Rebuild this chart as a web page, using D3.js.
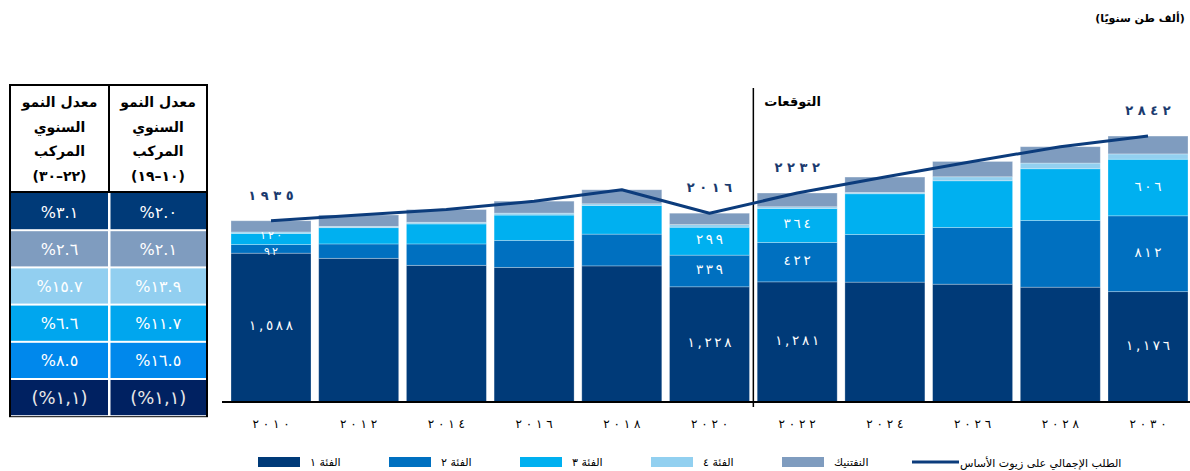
<!DOCTYPE html>
<html><head><meta charset="utf-8">
<script src="https://cdn.jsdelivr.net/npm/d3@7"></script>
<style>body{margin:0;background:#fff}svg{display:block;font-family:"DejaVu Sans",sans-serif}
.ltr{direction:ltr;unicode-bidi:bidi-override}</style>
</head><body><svg id="c" width="1190" height="471"></svg>
<script>
// ---------- data ----------
const years = ["2010","2012","2014","2016","2018","2020","2022","2024","2026","2028","2030"];
const group1 = [1588,1533,1458,1436,1452,1228,1281,1278,1256,1224,1176];
const group2 = [92,154,229,289,340,339,422,510,607,714,812];
const group3 = [120,174,214,271,307,299,364,436,500,554,606];
const group4 = [15,14,18,21,18,28,18,14,43,61,57];
const naphthenic = [120,122,136,128,150,122,147,165,164,175,191];
const totalDemand = [1935,1997,2055,2145,2267,2016,2232,2403,2570,2728,2842];
const labeledYears = ["2010","2020","2022","2030"];
const seriesNames = ["الفئة ١","الفئة ٢","الفئة ٣","الفئة ٤","النفتنيك"];
const lineName = "الطلب الإجمالي على زيوت الأساس";
const forecastLabel = "التوقعات";
const unitLabel = "(ألف طن سنويًا)";
const tableHeaderLines = ["معدل النمو","السنوي","المركب"];
const periodRight = "(١٠–١٩)";
const periodLeft = "(٢٢–٣٠)";
const cagr2010_19 = ["%٢.٠","%٢.١","%١٣.٩","%١١.٧","%١٦.٥","(%١,١)"];
const cagr2022_30 = ["%٣.١","%٢.٦","%١٥.٧","%٦.٦","%٨.٥","(%١,١)"];

const colors = ["#003a78","#0070c0","#00b0f0","#92d0f0","#7f9cbf"];
const rowColors = ["#003a78","#7f9cbf","#92cff0","#00a6ee","#0088ec","#002161"];
const lineColor = "#0c3c7c";

const toAr = s => String(s).replace(/[0-9]/g, d => "٠١٢٣٤٥٦٧٨٩"[+d]);
const spaced = (s, sep) => toAr(s).split("").join(sep);

const svg = d3.select("#c");

// ---------- scales ----------
const x = d3.scaleBand().domain(years).range([227.15, 1191.85]).paddingInner(0.0878).paddingOuter(0.0439);
const y = d3.scaleLinear().domain([0, 3000]).range([401.5, 121.3]);

const rows = years.map((yr, i) => ({year: yr, s0: group1[i], s1: group2[i], s2: group3[i], s3: group4[i], s4: naphthenic[i]}));
const stack = d3.stack().keys(["s0","s1","s2","s3","s4"])(rows);

// ---------- bars ----------
const gBars = svg.append("g");
stack.forEach((layer, li) => {
  gBars.selectAll(null).data(layer).enter().append("rect")
    .attr("x", d => x(d.data.year))
    .attr("width", x.bandwidth())
    .attr("y", d => y(d[1]))
    .attr("height", d => y(d[0]) - y(d[1]))
    .attr("fill", colors[li])
    .attr("stroke", "#ffffff").attr("stroke-opacity", 0.35).attr("stroke-width", 0.8);
});

// segment labels (small segments get nudged apart so they stay legible)
[0,1,2].forEach(li => {
  gBars.selectAll(null).data(stack[li].filter(d => labeledYears.includes(d.data.year))).enter().append("text")
    .attr("class", "ltr")
    .attr("x", d => x(d.data.year) + x.bandwidth()/2)
    .attr("y", d => {
      const mid = (y(d[0]) + y(d[1]))/2 + 3;
      const small = (y(d[0]) - y(d[1])) < 16;
      return small ? mid + (li === 1 ? 3 : -3) : mid;
    })
    .attr("text-anchor", "middle")
    .attr("fill", "#fff")
    .attr("font-size", d => (y(d[0]) - y(d[1])) < 16 ? 11 : 13.5)
    .text(d => spaced(d3.format(",")(d[1]-d[0]), "\u2009"));
});

// ---------- axis ----------
const ax = svg.append("g").attr("transform", "translate(0,402)")
  .call(d3.axisBottom(x).tickSize(0).tickPadding(0).tickFormat(d => spaced(d, " ")));
ax.select(".domain").attr("stroke", "#000").attr("stroke-width", 1.8).attr("d", "M222,0H1190");
ax.selectAll(".tick text").attr("class", "ltr").attr("dy", 0).attr("y", 26).attr("font-size", 12)
  .attr("fill", "#000").attr("font-family", "DejaVu Sans");

// forecast separator
const sepX = (x("2020") + x.bandwidth() + x("2022")) / 2;
svg.append("line").attr("x1", sepX).attr("x2", sepX).attr("y1", 88).attr("y2", 407)
  .attr("stroke", "#000").attr("stroke-width", 1.5);
svg.append("text").attr("x", sepX + 11).attr("y", 106).attr("font-size", 13).attr("font-weight", "bold")
  .attr("fill", "#000").text(forecastLabel);

// ---------- total line ----------
const line = d3.line().x((d, i) => x(years[i]) + x.bandwidth()/2).y(d => y(d));
svg.append("path").datum(totalDemand).attr("d", line).attr("fill", "none")
  .attr("stroke", lineColor).attr("stroke-width", 3).attr("stroke-linejoin", "round");

svg.selectAll(null).data(years.map((yr, i) => ({yr, v: totalDemand[i]})).filter(d => labeledYears.includes(d.yr)))
  .enter().append("text")
  .attr("class", "ltr")
  .attr("x", d => x(d.yr) + x.bandwidth()/2)
  .attr("y", d => y(d.v) - 21)
  .attr("text-anchor", "middle").attr("font-size", 13).attr("font-weight", "bold")
  .attr("fill", "#1a3a6e")
  .text(d => spaced(d.v, " "));

// unit label
svg.append("text").attr("x", 1140).attr("y", 22).attr("text-anchor", "middle").attr("direction", "rtl")
  .attr("font-size", 11).attr("font-weight", "bold").attr("fill", "#000").text(unitLabel);

// ---------- legend ----------
const lg = svg.append("g");
seriesNames.forEach((n, i) => {
  const lx = 258 + i * 131;
  lg.append("rect").attr("x", lx).attr("y", 457).attr("width", 42).attr("height", 10).attr("fill", colors[i]);
  lg.append("text").attr("x", lx + 52).attr("y", 466).attr("font-size", 11).attr("fill", "#000").text(n);
});
lg.append("line").attr("x1", 912).attr("x2", 959).attr("y1", 462).attr("y2", 462)
  .attr("stroke", lineColor).attr("stroke-width", 3);
lg.append("text").attr("x", 960).attr("y", 467).attr("font-size", 11).attr("fill", "#000").text(lineName);

// ---------- CAGR table ----------
const tb = svg.append("g");
const tL = 10, tR = 207, tMid = 109, tTop = 85, hBot = 192, rowH = 37.2;
// header
tb.append("rect").attr("x", tL).attr("y", tTop).attr("width", tR - tL).attr("height", hBot - tTop)
  .attr("fill", "#fff").attr("stroke", "#000").attr("stroke-width", 2);
tb.append("line").attr("x1", tMid).attr("x2", tMid).attr("y1", tTop).attr("y2", hBot).attr("stroke", "#000").attr("stroke-width", 2);
[[ (tL+tMid)/2, periodLeft ], [ (tMid+tR)/2, periodRight ]].forEach(([cx, per]) => {
  tableHeaderLines.concat([per]).forEach((t, k) => {
    tb.append("text").attr("x", cx).attr("y", 107 + k * 24.5).attr("text-anchor", "middle")
      .attr("direction", "rtl").attr("font-size", 14).attr("font-weight", "bold").attr("fill", "#000").text(t);
  });
});
// body
const bodyTop = hBot + 1;
tb.append("rect").attr("x", tL - 1).attr("y", bodyTop - 1).attr("width", tR - tL + 2).attr("height", rowH * 6 + 2)
  .attr("fill", "#000");
tb.append("rect").attr("x", tL + 1).attr("y", bodyTop).attr("width", tR - tL - 2).attr("height", rowH * 6)
  .attr("fill", "#fff");
rowColors.forEach((c, r) => {
  const ry = bodyTop + r * rowH;
  [[tL + 1, tMid - 1, cagr2022_30[r]], [tMid + 1.5, tR - 1, cagr2010_19[r]]].forEach(([a, b, t]) => {
    tb.append("rect").attr("x", a).attr("y", ry + (r ? 1 : 0)).attr("width", b - a).attr("height", rowH - (r ? 1 : 0) - 1)
      .attr("fill", c);
    tb.append("text").attr("x", (a + b) / 2).attr("y", ry + rowH / 2 + 6).attr("text-anchor", "middle")
      .attr("font-size", r === 5 ? 18 : 16).attr("fill", r === 5 ? "#e8e8e8" : "#fff").text(t);
  });
});
</script></body></html>
